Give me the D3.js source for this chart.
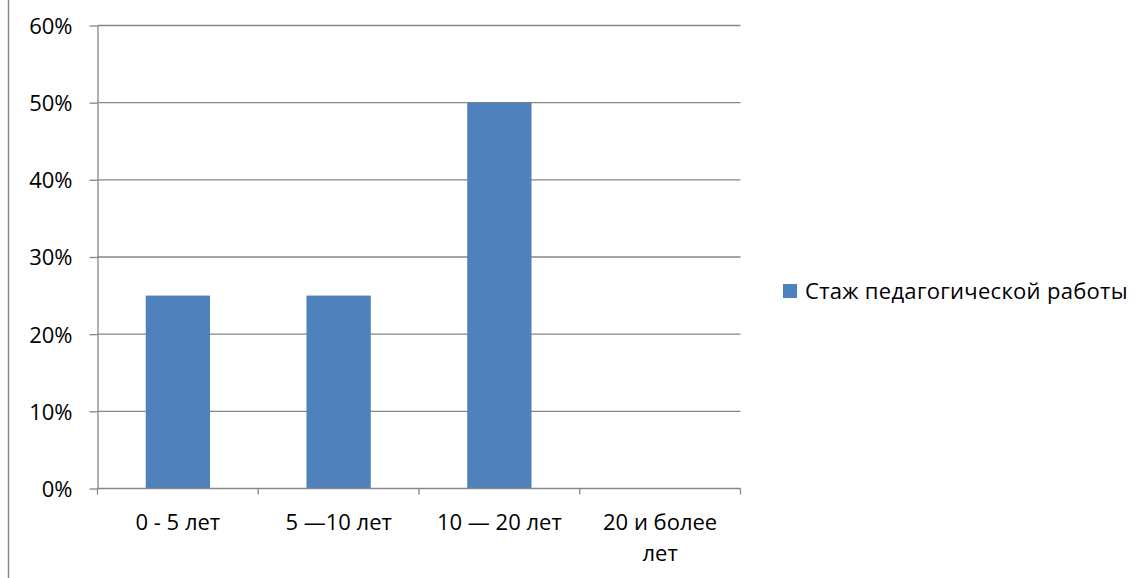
<!DOCTYPE html>
<html>
<head>
<meta charset="utf-8">
<script src="https://cdn.jsdelivr.net/npm/d3@7"></script>
<style>
  body { margin: 0; background: #fff; }
  svg text { font-family: "Open Sans", "Noto Sans", sans-serif; fill: #000; }
</style>
</head>
<body>
<svg id="chart" width="1139" height="578"></svg>
<script>
const categories = ["0 - 5 лет", "5 —10 лет", "10 — 20 лет", "20 и более лет"];
const values = [0.25, 0.25, 0.5, 0];
const yTicks = [0, 0.1, 0.2, 0.3, 0.4, 0.5, 0.6];
const seriesName = "Стаж педагогической работы";

const svg = d3.select("#chart");
const margin = { top: 25.5, left: 97.5, right: 740.5, bottom: 488.5 };
const barColor = "#4f81bd";
const gridColor = "#868686";

// left frame line
svg.append("line")
  .attr("x1", 8.5).attr("x2", 8.5)
  .attr("y1", 0).attr("y2", 578)
  .attr("stroke", gridColor).attr("stroke-width", 1.5);

const x = d3.scaleBand()
  .domain(categories)
  .range([margin.left, margin.right])
  .paddingInner(0.6)
  .paddingOuter(0.3);

const y = d3.scaleLinear()
  .domain([0, 0.6])
  .range([margin.bottom, margin.top]);

// gridlines
svg.append("g")
  .selectAll("line")
  .data(yTicks.slice(1))
  .join("line")
  .attr("x1", margin.left).attr("x2", margin.right)
  .attr("y1", d => y(d)).attr("y2", d => y(d))
  .attr("stroke", gridColor).attr("stroke-width", 1.3);

// bars
svg.append("g")
  .selectAll("rect")
  .data(values)
  .join("rect")
  .attr("x", (d, i) => x(categories[i]))
  .attr("width", x.bandwidth())
  .attr("y", d => y(d))
  .attr("height", d => margin.bottom - y(d))
  .attr("fill", barColor);

// y axis
const yAxis = svg.append("g")
  .attr("transform", `translate(${margin.left},0)`)
  .call(d3.axisLeft(y).tickValues(yTicks).tickFormat(d3.format(".0%")).tickSizeInner(8).tickSizeOuter(0).tickPadding(17));
yAxis.selectAll("path, line").attr("stroke", gridColor).attr("stroke-width", 1.3);
yAxis.selectAll("text").style("font-size", "22px").attr("fill", "#000").attr("dy", "0.36em");

// x axis
const step = (margin.right - margin.left) / categories.length;
const xAxis = svg.append("g")
  .attr("transform", `translate(0,${margin.bottom})`);
xAxis.append("line")
  .attr("x1", margin.left).attr("x2", margin.right)
  .attr("stroke", gridColor).attr("stroke-width", 1.3);
xAxis.selectAll(".tk")
  .data(d3.range(categories.length + 1))
  .join("line")
  .attr("x1", d => margin.left + d * step).attr("x2", d => margin.left + d * step)
  .attr("y1", 0).attr("y2", 6)
  .attr("stroke", gridColor).attr("stroke-width", 1.3);

const labelLines = [["0 - 5 лет"], ["5 —10 лет"], ["10 — 20 лет"], ["20 и более", "лет"]];
categories.forEach((c, i) => {
  const t = xAxis.append("text")
    .attr("x", x(c) + x.bandwidth() / 2)
    .attr("y", 41)
    .attr("text-anchor", "middle")
    .style("font-size", "22px");
  labelLines[i].forEach((ln, j) => {
    t.append("tspan").attr("x", x(c) + x.bandwidth() / 2).attr("dy", j ? 31 : 0).text(ln);
  });
});

// legend
const lg = svg.append("g").attr("transform", "translate(783,284)");
lg.append("rect").attr("width", 14).attr("height", 14).attr("fill", barColor);
lg.append("text").attr("x", 22).attr("y", 15).style("font-size", "22px").style("letter-spacing", "0.3px").text(seriesName);
</script>
</body>
</html>
